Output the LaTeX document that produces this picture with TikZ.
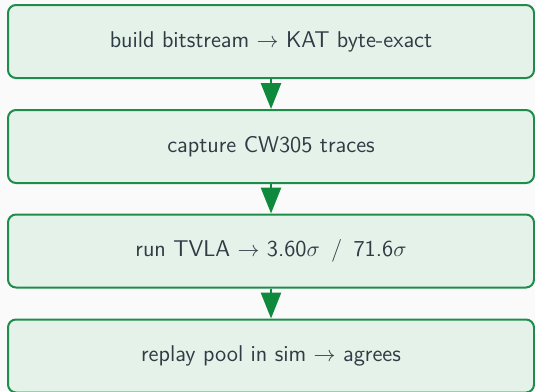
\documentclass[tikz,border=0pt]{standalone}
\usepackage{amsmath}
\usepackage{tikz}
\usetikzlibrary{arrows.meta, positioning}
\renewcommand{\familydefault}{\sfdefault}
\definecolor{stepfill}{HTML}{E5F2EA}
\definecolor{stepline}{HTML}{1E8C4A}
\definecolor{flowarrow}{HTML}{0F8A3C}
\definecolor{steptext}{HTML}{2E3C44}
\definecolor{pagebg}{HTML}{FAFAFA}

\begin{document}
\begin{tikzpicture}[
  x=0.5pt, y=0.5pt,
  every node/.style={font=\fontsize{11.4}{13.5}\selectfont\sffamily},
  stage/.style={
    rectangle, rounded corners=4pt, draw=stepline, line width=1pt,
    fill=stepfill, text=steptext,
    minimum width=263pt, minimum height=36.5pt, align=center
  },
  arr/.style={
    -{Triangle[length=13pt,width=10pt]}, draw=flowarrow, fill=flowarrow,
    line width=1.3pt
  }
]

% Page
\fill[pagebg] (0,0) rectangle (535,-391);
\useasboundingbox (0,0) rectangle (535,-391);

% Pipeline steps
\node[stage] (build) at (271,-41.5)
{build bitstream $\rightarrow$ KAT byte-exact};

\node[stage] (capture) at (271,-146.5)
{capture CW305 traces};

\node[stage] (tvla) at (271,-251)
{run TVLA $\rightarrow$ 3.60$\sigma$ \,/\, 71.6$\sigma$};

\node[stage] (replay) at (271,-356)
{replay pool in sim $\rightarrow$ agrees};

% Flow
\draw[arr] (build) -- (capture);
\draw[arr] (capture) -- (tvla);
\draw[arr] (tvla) -- (replay);

\end{tikzpicture}
\end{document}
